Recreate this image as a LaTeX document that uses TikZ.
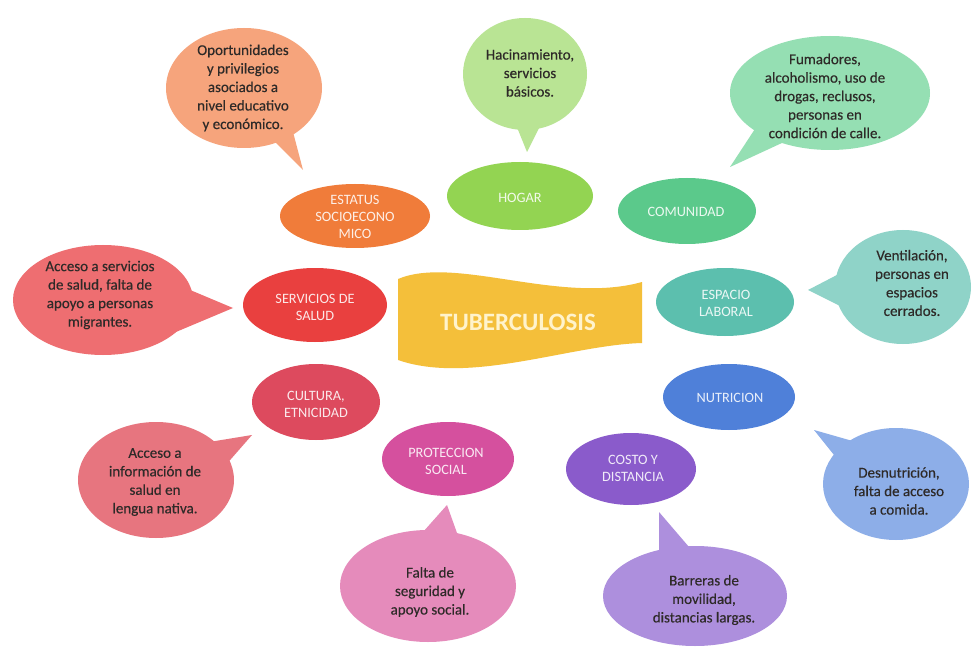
\documentclass[tikz,border=0pt]{standalone}
\usepackage{fontspec}
\setmainfont{Carlito}
\newfontfamily\bubfont{Carlito}[FakeBold=0.35]
\usetikzlibrary{shapes.geometric,calc}
\definecolor{estC}{HTML}{F07C3A}
\definecolor{estB}{HTML}{F6A47C}
\definecolor{hogC}{HTML}{93D452}
\definecolor{hogB}{HTML}{B9E494}
\definecolor{comC}{HTML}{5BC98B}
\definecolor{comB}{HTML}{95DFB3}
\definecolor{serC}{HTML}{E9403F}
\definecolor{serB}{HTML}{EE6E71}
\definecolor{espC}{HTML}{5CBFAE}
\definecolor{espB}{HTML}{8FD3C8}
\definecolor{culC}{HTML}{DD4A5E}
\definecolor{culB}{HTML}{E7757F}
\definecolor{nutC}{HTML}{4F80D9}
\definecolor{nutB}{HTML}{8DAEE8}
\definecolor{proC}{HTML}{D5509E}
\definecolor{proB}{HTML}{E58BBB}
\definecolor{cosC}{HTML}{8A5BCB}
\definecolor{cosB}{HTML}{AD8FDD}
\definecolor{banC}{HTML}{F4BF3A}
\definecolor{banT}{HTML}{FFF3CC}
\definecolor{darkT}{HTML}{2E2A28}
\begin{document}
\begin{tikzpicture}[x=1pt,y=-1pt,
  cat/.style={ellipse, inner sep=0pt, draw=none},
  cattext/.style={align=center, text=white, text opacity=0.88, font=\fontsize{14.3}{17}\selectfont, inner sep=0pt},
  bub/.style={ellipse, inner sep=0pt, draw=none},
  bubtext/.style={align=center, text=darkT, font=\bubfont\fontsize{15}{18.5}\selectfont, inner sep=0pt}]
\useasboundingbox (0,0) rectangle (972,647);
\fill[white] (0,0) rectangle (972,647);

% ---------- speech bubbles ----------
\node[bub, fill=estB, minimum width=156pt, minimum height=120pt] (b1) at (244,88) {};
\coordinate (t1) at (303,170);
\fill[estB] ($(b1)+(44,25)$) -- (t1) -- ($(b1)+(21,44)$) -- cycle;
\node[bubtext] (b1t) at (243,88) {Oportunidades\\y privilegios\\asociados a\\nivel educativo\\y económico.};

\node[bub, fill=hogB, minimum width=124pt, minimum height=112pt] (b2) at (525,74) {};
\coordinate (t2) at (527,152);
\fill[hogB] ($(b2)+(-15,36)$) -- (t2) -- ($(b2)+(23,36)$) -- cycle;
\node[bubtext] (b2t) at (530,73) {Hacinamiento,\\servicios\\básicos.};

\node[bub, fill=comB, minimum width=200pt, minimum height=114pt] (b3) at (830,93) {};
\coordinate (t3) at (730,167);
\fill[comB] ($(b3)+(-60,13)$) -- (t3) -- ($(b3)+(-20,37)$) -- cycle;
\node[bubtext] (b3t) at (825,96) {Fumadores,\\alcoholismo, uso de\\drogas, reclusos,\\personas en\\condición de calle.};

\node[bub, fill=serB, minimum width=180pt, minimum height=110pt] (b4) at (103,300) {};
\coordinate (t4) at (233,308);
\fill[serB] ($(b4)+(61,-21)$) -- (t4) -- ($(b4)+(61,37)$) -- cycle;
\node[bubtext] (b4t) at (100,295) {Acceso a servicios\\de salud, falta de\\apoyo a personas\\migrantes.};

\node[bub, fill=espB, minimum width=136pt, minimum height=114pt] (b5) at (903,287) {};
\coordinate (t5) at (808,290);
\fill[espB] ($(b5)+(-43,-24)$) -- (t5) -- ($(b5)+(-41,30)$) -- cycle;
\node[bubtext] (b5t) at (912,283) {Ventilación,\\personas en\\espacios\\cerrados.};

\node[bub, fill=culB, minimum width=156pt, minimum height=116pt] (b6) at (156,480) {};
\coordinate (t6) at (252,435);
\fill[culB] ($(b6)+(41,-36)$) -- (t6) -- ($(b6)+(61,-5)$) -- cycle;
\node[bubtext] (b6t) at (155,482) {Acceso a\\información de\\salud en\\lengua nativa.};

\node[bub, fill=nutB, minimum width=146pt, minimum height=112pt] (b7) at (896,484) {};
\coordinate (t7) at (814,430);
\fill[nutB] ($(b7)+(-19,-36)$) -- (t7) -- ($(b7)+(-46,-9)$) -- cycle;
\node[bubtext] (b7t) at (899,491) {Desnutrición,\\falta de acceso\\a comida.};

\node[bub, fill=proB, minimum width=176pt, minimum height=112pt] (b8) at (428,586) {};
\coordinate (t8) at (447,505);
\fill[proB] ($(b8)+(-29,-27)$) -- (t8) -- ($(b8)+(39,-25)$) -- cycle;
\node[bubtext] (b8t) at (430,592) {Falta de\\seguridad y\\apoyo social.};

\node[bub, fill=cosB, minimum width=184pt, minimum height=100pt] (b9) at (695,596) {};
\coordinate (t9) at (659,512);
\fill[cosB] ($(b9)+(-36,-21)$) -- (t9) -- ($(b9)+(18,-21)$) -- cycle;
\node[bubtext] (b9t) at (704,600) {Barreras de\\movilidad,\\distancias largas.};

% ---------- category ellipses ----------
\node[cat, fill=estC, minimum width=150pt, minimum height=64pt] (est) at (355,216) {};
\node[cattext] (estt) at (355,217) {ESTATUS\\SOCIOECONO\\MICO};
\node[cat, fill=hogC, minimum width=146pt, minimum height=68pt] (hog) at (520,196) {};
\node[cattext] (hogt) at (520,198) {HOGAR};
\node[cat, fill=comC, minimum width=138pt, minimum height=66pt] (com) at (687,211) {};
\node[cattext] (comt) at (686,212) {COMUNIDAD};
\node[cat, fill=serC, minimum width=144pt, minimum height=74pt] (ser) at (315,305) {};
\node[cattext] (sert) at (315,307) {SERVICIOS DE\\SALUD};
\node[cat, fill=espC, minimum width=138pt, minimum height=68pt] (esp) at (725,302) {};
\node[cattext] (espt) at (726,303) {ESPACIO\\LABORAL};
\node[cat, fill=culC, minimum width=128pt, minimum height=76pt] (cul) at (316,402) {};
\node[cattext] (cult) at (316,404) {CULTURA,\\ETNICIDAD};
\node[cat, fill=nutC, minimum width=132pt, minimum height=66pt] (nut) at (729,397) {};
\node[cattext] (nutt) at (730,398) {NUTRICION};
\node[cat, fill=proC, minimum width=132pt, minimum height=74pt] (pro) at (448,459) {};
\node[cattext] (prot) at (446,461) {PROTECCION\\SOCIAL};
\node[cat, fill=cosC, minimum width=130pt, minimum height=72pt] (cos) at (631,469) {};
\node[cattext] (cost) at (633,468) {COSTO Y\\DISTANCIA};

% ---------- central banner ----------
\fill[banC] (398,279) .. controls (455,255) and (560,305) .. (642,282)
  -- (642,343) .. controls (570,345) and (470,385) .. (398,360) -- cycle;
\node[font=\fontsize{25}{30}\selectfont\bfseries, text=banT, inner sep=0pt] (tb) at (518,322) {TUBERCULOSIS};
\end{tikzpicture}
\end{document}
